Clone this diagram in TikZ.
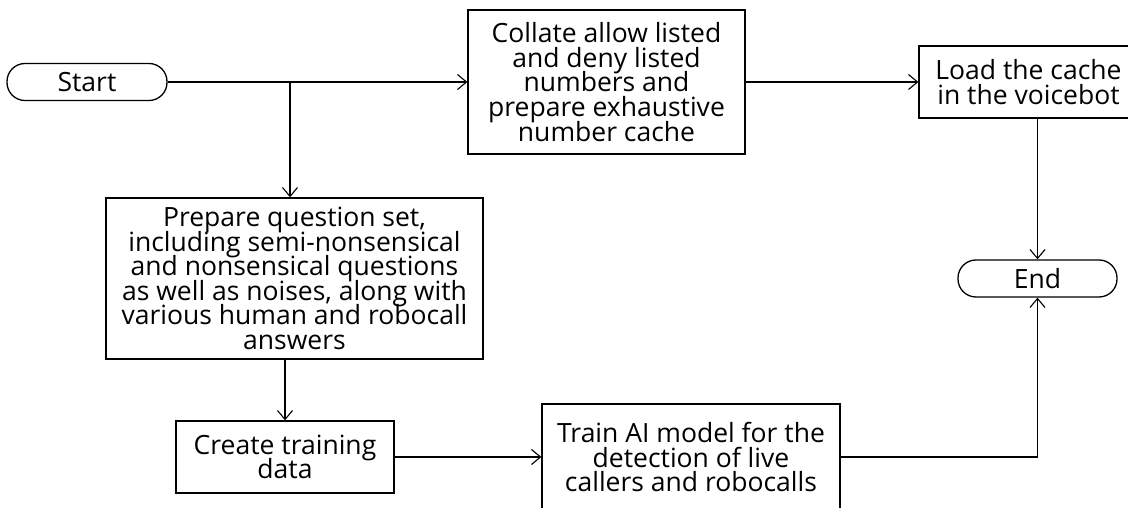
\documentclass[tikz,border=0pt]{standalone}
\usepackage{fontspec}
\setmainfont{Open Sans}
\usetikzlibrary{arrows.meta}
% label font: large glyphs on a tight, fixed line pitch
\newcommand{\steptextfont}{\fontsize{26.5}{24.6}\selectfont\setlength{\lineskiplimit}{-30pt}}
\begin{document}
\begin{tikzpicture}[x=1pt,y=-1pt,
  box/.style={draw, line width=1.3pt, inner sep=0pt, align=center,
    font=\steptextfont},
  term/.style={box, rounded corners=18pt, minimum height=37pt},
  link/.style={line width=1.1pt, -{Straight Barb[length=9pt,width=15pt]}}]
\useasboundingbox (0,0) rectangle (1128,508);
\clip (0,0) rectangle (1128,508);

% process steps
\node[term, minimum width=160pt] (start) at (87,82) {Start};
\node[box, minimum width=277pt, minimum height=144pt] (collate) at (606.5,82)
  {Collate allow listed\\and deny listed\\numbers and\\prepare exhaustive\\number cache};
\node[box, minimum width=219pt, minimum height=72pt] (load) at (1028.5,82)
  {Load the cache\\in the voicebot};
\node[term, minimum width=159pt] (end) at (1037.5,278.5) {End};
\node[box, minimum width=377pt, minimum height=161pt] (prep) at (294.5,278.5)
  {Prepare question set,\\including semi-nonsensical\\and nonsensical questions\\as well as noises, along with\\various human and robocall\\answers};
\node[box, minimum width=218pt, minimum height=72pt] (create) at (285,457)
  {Create training\\data};
\node[box, minimum width=298pt, minimum height=106pt] (train) at (691,457)
  {Train AI model for the\\detection of live\\callers and robocalls};

% connectors
\coordinate (split) at (290,82);
\draw[link] (start.east) -- (collate.west);
\draw[link] (split) -- (prep.north -| split);
\draw[link] (collate.east) -- (load.west);
\draw[link] (load.south -| end) -- (end.north);
\draw[link] (prep.south -| create) -- (create.north);
\draw[link] (create.east) -- (train.west);
\draw[link] (train.east) -| (end.south);
\end{tikzpicture}
\end{document}
